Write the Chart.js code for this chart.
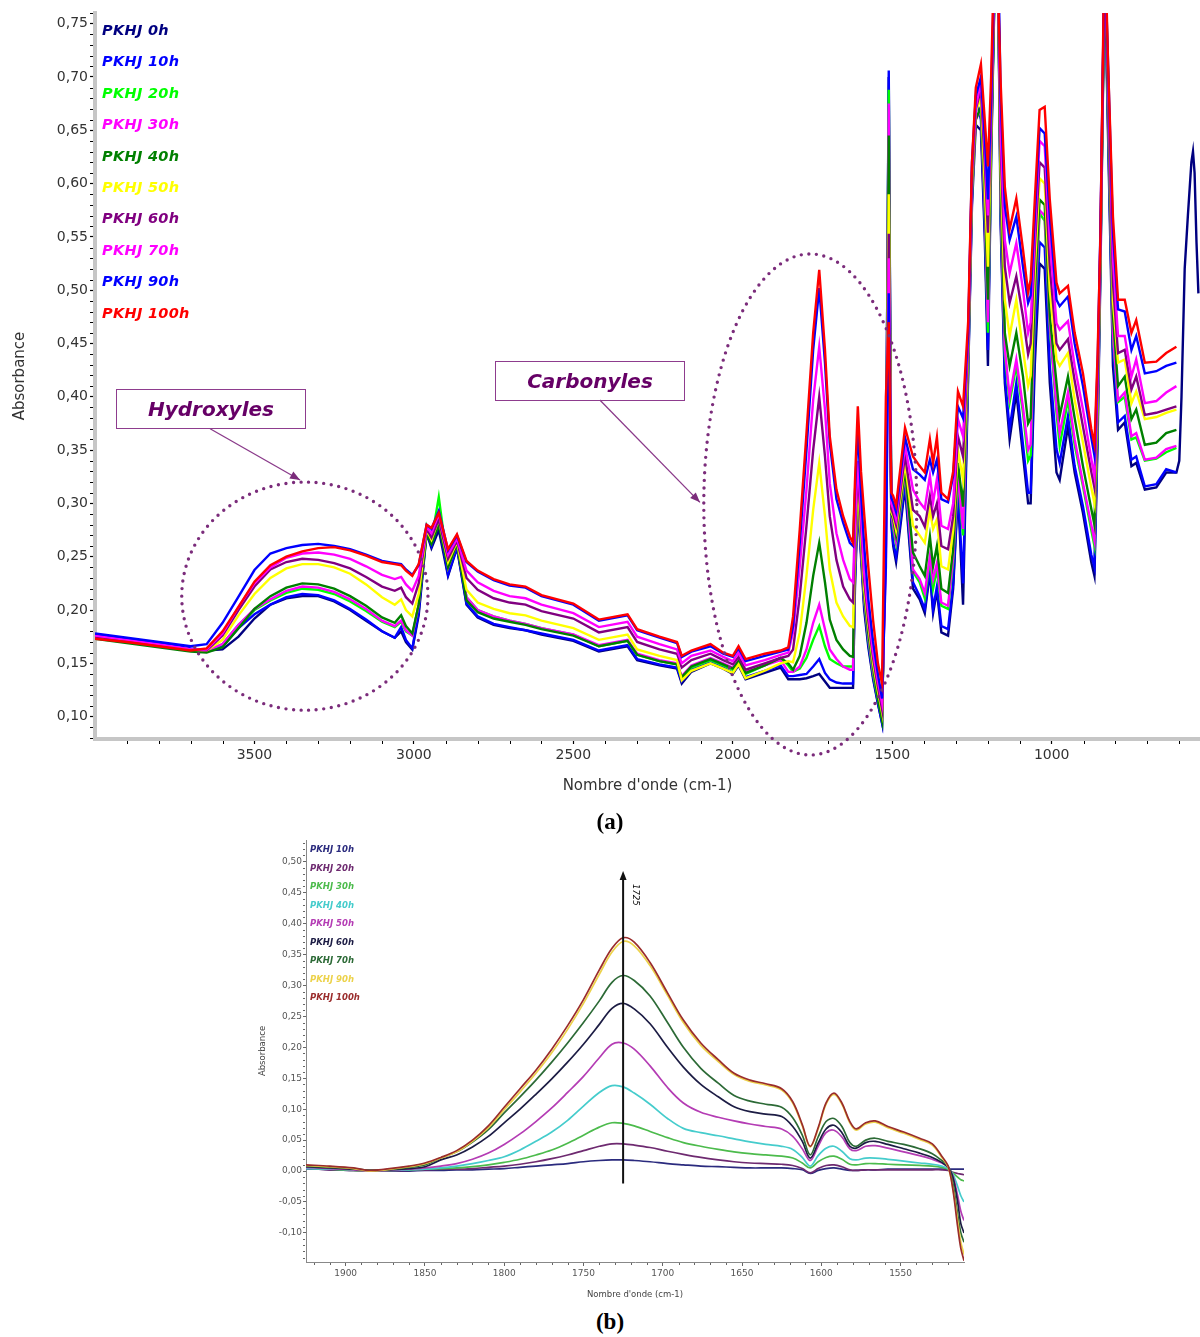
<!DOCTYPE html>
<html>
<head>
<meta charset="utf-8">
<title>PKHJ - spectres IR</title>
<script src="https://cdn.jsdelivr.net/npm/chart.js@4.4.1/dist/chart.umd.min.js"></script>
<style>
html, body { margin: 0; padding: 0; background: #fff; }
#page { position: relative; width: 1200px; height: 1337px; overflow: hidden; }
canvas { position: absolute; }
#chartA { left: 0; top: 0; }
#chartB { left: 250px; top: 830px; }
.lg { position: absolute; font-family: "DejaVu Sans", sans-serif; font-weight: bold; font-style: italic; white-space: nowrap; }
.lgA { left: 102px; font-size: 14.5px; line-height: 18px; letter-spacing: 0.3px; }
.lgB { left: 310px; font-size: 8.5px; line-height: 10px; }
.tag { position: absolute; box-sizing: border-box; width: 190px; height: 40px; border: 1px solid #8e3c8e; text-align: center; line-height: 38px; font-family: "DejaVu Sans", sans-serif; font-weight: bold; font-style: italic; font-size: 20px; color: #660066; }
.cap { position: absolute; left: 560px; width: 100px; text-align: center; font-family: "Liberation Serif", serif; font-weight: bold; font-size: 23px; line-height: 28px; color: #000; }
#peak { position: absolute; left: 641px; top: 884px; font-family: "DejaVu Sans", sans-serif; font-style: italic; font-size: 8.5px; line-height: 10px; transform: rotate(90deg); transform-origin: left top; white-space: nowrap; }
</style>
</head>
<body>
<div id="page">
  <canvas id="chartA" width="1200" height="800"></canvas>
  <canvas id="chartB" width="720" height="475"></canvas>
  <div class="tag" style="left:116px;top:389px">Hydroxyles</div>
  <div class="tag" style="left:495px;top:361px">Carbonyles</div>
  <div class="cap" style="top:808px">(a)</div>
  <div class="cap" style="top:1308px">(b)</div>
  <div id="peak">1725</div>
</div>
<script>
// ---------- (a) full spectra ----------
const wavenumbers = [4000,3900,3800,3700,3650,3600,3550,3500,3450,3400,
  3350,3300,3250,3200,3150,3100,3060,3040,3025,3005,
  2985,2960,2945,2922,2893,2865,2835,2800,2750,2700,
  2650,2600,2500,2420,2330,2300,2230,2175,2160,2130,
  2070,2030,2000,1982,1960,1900,1850,1826,1811,1790,
  1769,1748,1729,1711,1696,1675,1654,1633,1623,1617,
  1608,1598,1588,1575,1560,1545,1532,1520,1511,1503,
  1497,1488,1460,1435,1414,1398,1382,1372,1360,1346,
  1325,1309,1294,1278,1262,1250,1238,1222,1210,1200,
  1190,1178,1168,1160,1147,1132,1111,1090,1074,1066,
  1053,1038,1022,1006,985,975,949,928,902,876,
  866,856,847,834,823,808,792,771,750,735,
  708,672,641,609,600,593,583,573,562,557,
  552,546,540];

const pkhj0h = [.176,.172,.168,.163,.162,.163,.175,.192,.205,.211,
  .213,.213,.208,.200,.190,.180,.174,.180,.170,.163,
  .195,.272,.258,.275,.232,.258,.205,.193,.186,.183,
  .181,.177,.171,.161,.166,.153,.148,.145,.131,.142,
  .150,.145,.140,.148,.135,.141,.146,.135,.135,.135,
  .136,.138,.140,.133,.127,.127,.127,.127,.127,.220,
  .300,.250,.200,.165,.135,.112,.094,.300,.700,.280,
  .260,.245,.315,.220,.210,.197,.235,.197,.218,.179,
  .176,.220,.310,.205,.420,.580,.655,.650,.550,.429,
  .620,.800,.790,.560,.413,.360,.404,.345,.300,.300,
  .430,.525,.520,.413,.329,.322,.372,.329,.291,.245,
  .232,.360,.520,.800,.640,.429,.369,.376,.335,.338,
  .313,.315,.329,.329,.340,.400,.520,.570,.620,.630,
  .610,.545,.497];
const pkhj10h = [.177,.173,.169,.164,.162,.166,.183,.196,.205,.212,
  .215,.214,.209,.201,.191,.180,.174,.184,.172,.164,
  .198,.273,.260,.282,.233,.259,.206,.194,.187,.184,
  .181,.178,.172,.162,.167,.154,.149,.146,.133,.144,
  .151,.146,.141,.149,.137,.143,.148,.138,.138,.139,
  .140,.147,.154,.141,.135,.132,.131,.131,.131,.230,
  .305,.255,.205,.168,.137,.113,.094,.300,.706,.285,
  .263,.250,.320,.226,.213,.201,.238,.201,.222,.185,
  .182,.225,.313,.225,.425,.585,.680,.660,.560,.444,
  .630,.810,.820,.569,.419,.370,.413,.355,.310,.310,
  .450,.545,.540,.429,.351,.338,.382,.335,.297,.252,
  .240,.370,.530,.820,.650,.444,.376,.382,.341,.344,
  .316,.318,.332,.329];
const pkhj20h = [.174,.170,.166,.162,.161,.168,.186,.200,.209,.216,
  .220,.219,.215,.208,.199,.189,.184,.189,.180,.176,
  .205,.278,.265,.306,.240,.263,.212,.200,.194,.190,
  .187,.183,.177,.166,.171,.158,.152,.149,.136,.146,
  .153,.148,.144,.151,.140,.148,.155,.148,.142,.145,
  .155,.172,.185,.166,.154,.150,.147,.147,.147,.240,
  .310,.260,.210,.172,.140,.116,.098,.290,.688,.290,
  .276,.262,.328,.236,.226,.211,.247,.220,.238,.204,
  .201,.245,.323,.270,.430,.590,.665,.665,.575,.460,
  .630,.800,.780,.579,.440,.395,.429,.385,.340,.345,
  .480,.572,.565,.465,.385,.354,.397,.355,.316,.275,
  .260,.380,.530,.800,.660,.455,.395,.400,.360,.362,
  .340,.342,.348,.352];
const pkhj30h = [.175,.171,.167,.163,.162,.168,.186,.201,.210,.218,
  .222,.221,.217,.210,.201,.190,.185,.190,.181,.176,
  .205,.276,.265,.290,.240,.262,.212,.200,.194,.190,
  .187,.183,.177,.167,.172,.159,.153,.150,.138,.148,
  .155,.150,.146,.153,.142,.148,.153,.142,.142,.147,
  .163,.188,.205,.182,.163,.154,.147,.144,.144,.240,
  .310,.260,.212,.175,.143,.119,.101,.290,.675,.290,
  .280,.265,.330,.238,.229,.216,.250,.229,.244,.207,
  .204,.250,.326,.276,.435,.595,.660,.670,.580,.470,
  .640,.810,.790,.585,.445,.400,.435,.390,.350,.355,
  .490,.575,.570,.470,.391,.366,.404,.360,.319,.280,
  .265,.385,.535,.810,.670,.460,.397,.404,.363,.366,
  .341,.343,.351,.354];
const pkhj40h = [.173,.169,.165,.161,.160,.165,.183,.201,.213,.221,
  .225,.224,.220,.213,.204,.193,.188,.195,.185,.178,
  .205,.272,.262,.280,.240,.262,.209,.198,.192,.189,
  .186,.182,.176,.166,.171,.158,.152,.149,.137,.147,
  .154,.149,.145,.152,.141,.148,.155,.150,.144,.157,
  .188,.232,.263,.226,.191,.172,.163,.157,.156,.250,
  .315,.265,.215,.178,.146,.117,.097,.280,.645,.290,
  .285,.270,.332,.254,.241,.232,.269,.241,.260,.220,
  .216,.257,.338,.297,.440,.600,.660,.672,.590,.491,
  .640,.800,.780,.597,.460,.429,.460,.419,.375,.380,
  .500,.585,.580,.476,.413,.382,.419,.380,.335,.295,
  .280,.390,.540,.800,.680,.476,.410,.419,.379,.388,
  .355,.357,.366,.369];
const pkhj50h = [.175,.171,.167,.163,.162,.172,.195,.215,.230,.239,
  .243,.243,.240,.234,.224,.212,.205,.210,.200,.194,
  .215,.275,.266,.285,.245,.264,.219,.207,.201,.197,
  .195,.190,.183,.172,.177,.163,.157,.153,.134,.143,
  .150,.145,.141,.149,.136,.143,.150,.152,.151,.179,
  .232,.294,.338,.288,.238,.207,.194,.185,.184,.260,
  .320,.270,.220,.185,.150,.124,.104,.270,.590,.292,
  .288,.275,.338,.279,.270,.263,.294,.276,.285,.241,
  .238,.275,.350,.322,.445,.605,.668,.680,.600,.522,
  .650,.820,.800,.616,.491,.457,.491,.444,.410,.420,
  .520,.605,.600,.500,.435,.429,.441,.397,.357,.315,
  .300,.400,.545,.830,.700,.490,.432,.435,.394,.405,
  .379,.381,.385,.388];
const pkhj60h = [.175,.171,.167,.163,.162,.176,.200,.222,.238,.245,
  .248,.247,.244,.239,.231,.222,.218,.221,.212,.206,
  .225,.276,.268,.285,.248,.265,.230,.219,.211,.207,
  .205,.199,.192,.179,.184,.170,.163,.159,.146,.153,
  .159,.153,.149,.156,.144,.150,.155,.157,.163,.213,
  .279,.350,.400,.344,.288,.247,.222,.210,.207,.270,
  .330,.280,.228,.190,.155,.128,.107,.260,.553,.295,
  .290,.280,.345,.294,.288,.278,.307,.288,.300,.260,
  .257,.288,.363,.344,.450,.610,.670,.688,.620,.554,
  .660,.810,.790,.632,.522,.488,.513,.475,.440,.450,
  .540,.620,.615,.522,.450,.444,.454,.415,.372,.330,
  .315,.410,.550,.810,.690,.507,.441,.444,.407,.419,
  .383,.385,.388,.391];
const pkhj70h = [.176,.172,.168,.163,.163,.178,.203,.225,.240,.249,
  .253,.254,.252,.248,.241,.233,.229,.231,.224,.218,
  .232,.278,.272,.290,.252,.267,.237,.226,.218,.213,
  .211,.205,.197,.184,.189,.175,.168,.163,.150,.157,
  .162,.156,.152,.160,.148,.153,.158,.160,.179,.241,
  .313,.397,.447,.388,.319,.272,.247,.229,.226,.280,
  .340,.290,.235,.197,.160,.133,.113,.250,.530,.300,
  .295,.285,.354,.313,.301,.295,.326,.301,.323,.279,
  .276,.300,.379,.363,.455,.615,.672,.695,.635,.570,
  .670,.820,.800,.647,.547,.516,.544,.500,.460,.470,
  .555,.640,.635,.547,.469,.463,.471,.429,.388,.342,
  .325,.420,.555,.820,.700,.530,.457,.457,.419,.435,
  .394,.396,.404,.410];
const pkhj90h = [.178,.174,.170,.166,.168,.188,.2125,.2375,.253,.258,
  .261,.262,.260,.257,.252,.246,.244,.243,.238,.233,
  .242,.280,.276,.293,.256,.270,.245,.236,.228,.223,
  .221,.213,.205,.190,.195,.181,.174,.169,.156,.161,
  .166,.159,.156,.164,.152,.157,.161,.163,.185,.263,
  .350,.444,.502,.432,.357,.304,.282,.263,.260,.310,
  .370,.310,.260,.210,.170,.140,.117,.240,.497,.305,
  .301,.292,.362,.332,.327,.322,.341,.329,.341,.304,
  .301,.326,.391,.380,.460,.620,.682,.700,.645,.585,
  .680,.830,.820,.679,.579,.547,.569,.522,.488,.495,
  .570,.652,.647,.569,.491,.485,.494,.450,.410,.362,
  .345,.430,.560,.820,.710,.554,.482,.480,.444,.457,
  .422,.424,.429,.432];
const pkhj100h = [.173,.170,.166,.162,.164,.180,.203,.2266,.242,.250,
  .255,.258,.259,.256,.251,.245,.243,.242,.237,.232,
  .243,.280,.277,.291,.257,.271,.246,.237,.229,.224,
  .222,.214,.206,.191,.196,.182,.175,.170,.157,.162,
  .168,.160,.157,.166,.154,.159,.162,.165,.194,.276,
  .366,.460,.519,.444,.363,.313,.288,.269,.263,.320,
  .391,.330,.290,.240,.190,.150,.131,.400,.470,.310,
  .307,.298,.371,.344,.335,.329,.360,.338,.362,.310,
  .304,.330,.405,.391,.470,.620,.690,.712,.660,.616,
  .700,.840,.780,.694,.597,.557,.586,.538,.498,.510,
  .585,.669,.672,.585,.507,.497,.504,.460,.422,.370,
  .355,.440,.554,.840,.710,.569,.491,.491,.460,.472,
  .432,.433,.441,.447];

const namesA = ['PKHJ 0h','PKHJ 10h','PKHJ 20h','PKHJ 30h','PKHJ 40h','PKHJ 50h','PKHJ 60h','PKHJ 70h','PKHJ 90h','PKHJ 100h'];
const colorsA = ['#000080','#0000ff','#00ff00','#ff00ff','#008000','#ffff00','#800080','#ff00ff','#0000ff','#ff0000'];
const seriesA = [pkhj0h,pkhj10h,pkhj20h,pkhj30h,pkhj40h,pkhj50h,pkhj60h,pkhj70h,pkhj90h,pkhj100h];
const yTicksA = [0.10,0.15,0.20,0.25,0.30,0.35,0.40,0.45,0.50,0.55,0.60,0.65,0.70,0.75];
const xTicksA = [3500,3000,2500,2000,1500,1000];

// ---------- (b) carbonyl zoom ----------
const wavenumbersB = [1925,1910,1895,1885,1875,1860,1850,1840,1830,1820,
  1810,1800,1790,1780,1770,1760,1750,1740,1732,1725,
  1718,1708,1697,1687,1676,1665,1655,1645,1635,1625,
  1618,1612,1607,1602,1597,1592,1587,1582,1578,1572,
  1566,1558,1548,1538,1530,1524,1520,1517,1514,1512,1510];
const b10h = [.004,.002,.001,.000,.000,.000,.001,.001,.002,.002,
  .003,.004,.006,.008,.010,.012,.015,.017,.018,.018,
  .017,.015,.012,.010,.008,.007,.006,.005,.005,.005,
  .004,.002,-.004,.001,.004,.005,.003,.001,.001,.002,
  .002,.003,.003,.003,.003,.003,.003,.003,.003,.003,.003];
const b20h = [.004,.002,.001,.000,.000,.001,.002,.003,.003,.004,
  .006,.008,.011,.015,.020,.026,.033,.040,.044,.044,
  .042,.038,.032,.027,.022,.018,.015,.013,.012,.011,
  .009,.004,-.003,.004,.009,.010,.007,.002,.001,.002,
  .002,.002,.002,.002,.002,.002,.001,-.002,-.004,-.005,-.006];
const b30h = [.005,.003,.001,.000,.001,.002,.003,.004,.005,.007,
  .010,.014,.019,.026,.034,.045,.058,.071,.078,.077,
  .073,.064,.054,.046,.040,.035,.031,.028,.026,.024,
  .021,.013,.005,.015,.022,.024,.019,.011,.010,.012,
  .012,.011,.010,.009,.008,.006,.003,-.003,-.010,-.014,-.016];
const b40h = [.004,.003,.002,.001,.001,.002,.003,.005,.008,.012,
  .017,.023,.034,.048,.063,.082,.105,.127,.138,.136,
  .126,.108,.085,.069,.062,.057,.052,.047,.043,.040,
  .035,.022,.008,.025,.037,.040,.032,.020,.018,.021,
  .021,.019,.016,.013,.011,.008,.004,-.005,-.025,-.040,-.050];
const b50h = [.006,.004,.002,.000,.001,.003,.005,.008,.012,.019,
  .029,.043,.060,.080,.102,.127,.153,.183,.205,.207,
  .197,.170,.135,.110,.095,.087,.081,.076,.072,.068,
  .056,.036,.017,.040,.062,.066,.055,.036,.033,.040,
  .041,.037,.031,.025,.019,.013,.006,-.008,-.040,-.065,-.080];
const b60h = [.007,.005,.003,.001,.002,.004,.007,.018,.026,.039,
  .056,.078,.100,.124,.149,.176,.205,.237,.263,.271,
  .262,.238,.200,.168,.140,.120,.104,.096,.092,.088,
  .072,.048,.021,.045,.068,.074,.062,.040,.037,.046,
  .048,.043,.036,.029,.022,.014,.006,-.010,-.050,-.085,-.100];
const b70h = [.008,.006,.004,.001,.002,.006,.010,.021,.031,.047,
  .067,.094,.120,.147,.176,.207,.240,.275,.305,.316,
  .308,.283,.240,.200,.166,.142,.122,.113,.108,.103,
  .086,.058,.026,.055,.080,.085,.072,.046,.040,.050,
  .053,.048,.043,.036,.028,.017,.008,-.020,-.070,-.100,-.115];
const b90h = [.009,.007,.004,.000,.002,.007,.012,.021,.031,.048,
  .070,.099,.128,.158,.191,.229,.271,.318,.354,.371,
  .364,.332,.284,.240,.203,.177,.156,.145,.139,.131,
  .110,.073,.039,.068,.108,.124,.108,.078,.066,.076,
  .079,.070,.061,.051,.042,.022,.006,-.028,-.080,-.115,-.135];
const b100h = [.010,.008,.005,.001,.003,.008,.013,.022,.033,.050,
  .073,.103,.133,.163,.197,.235,.277,.325,.360,.377,
  .370,.337,.288,.244,.207,.180,.158,.147,.141,.133,
  .112,.075,.040,.070,.110,.126,.110,.080,.068,.078,
  .081,.072,.063,.053,.044,.024,.008,-.030,-.090,-.125,-.145];

const namesB = ['PKHJ 10h','PKHJ 20h','PKHJ 30h','PKHJ 40h','PKHJ 50h','PKHJ 60h','PKHJ 70h','PKHJ 90h','PKHJ 100h'];
const colorsB = ['#2b2b7e','#6e2a70','#4cbb4c','#45cccc','#b43cb4','#1c1c44','#2c6a36','#ecd24a','#9a2c2c'];
const seriesB = [b10h,b20h,b30h,b40h,b50h,b60h,b70h,b90h,b100h];
const yTicksB = [-0.10,-0.05,0.00,0.05,0.10,0.15,0.20,0.25,0.30,0.35,0.40,0.45,0.50];
const xTicksB = [1900,1850,1800,1750,1700,1650,1600,1550];

// annotations of (a), in data units
const ellipses = [
  { w: 3342, v: 0.213, dw: 386, dv: 0.107 },
  { w: 1757, v: 0.299, dw: 334, dv: 0.235 }
];
const arrows = [
  { from: [3639, 0.370], to: [3357, 0.322] },
  { from: [2417, 0.397], to: [2103, 0.301] }
];
const peakLine = { w: 1725, from: -0.02, to: 0.485 };

Chart.defaults.font.family = '"DejaVu Sans", sans-serif';
Chart.defaults.animation = false;

function comma(v) { return v.toFixed(2).replace('.', ','); }

function buildSets(xs, series, names, colors, width, tension) {
  return series.map((vals, i) => ({
    label: names[i],
    data: vals.map((v, j) => ({ x: xs[j], y: v })),
    borderColor: colors[i],
    backgroundColor: colors[i],
    borderWidth: width,
    pointRadius: 0,
    tension: tension,
    fill: false,
    order: series.length - i
  }));
}

function drawHead(ctx, x0, y0, x1, y1, len, half) {
  const a = Math.atan2(y1 - y0, x1 - x0);
  ctx.beginPath();
  ctx.moveTo(x1, y1);
  ctx.lineTo(x1 - len * Math.cos(a) + half * Math.sin(a), y1 - len * Math.sin(a) - half * Math.cos(a));
  ctx.lineTo(x1 - len * Math.cos(a) - half * Math.sin(a), y1 - len * Math.sin(a) + half * Math.cos(a));
  ctx.closePath();
  ctx.fill();
}

const extrasA = {
  id: 'extrasA',
  afterDatasetsDraw(chart) {
    const { ctx, chartArea: a, scales: { x, y } } = chart;
    ctx.save();
    // minor ticks
    ctx.strokeStyle = '#000';
    ctx.lineWidth = 1;
    ctx.beginPath();
    for (let k = 8; k <= 76; k++) {
      if (k % 5 === 0) continue;
      const py = Math.round(y.getPixelForValue(k / 100)) + 0.5;
      ctx.moveTo(a.left - 5, py); ctx.lineTo(a.left - 2, py);
    }
    for (let w = 600; w <= 3900; w += 100) {
      if (w % 500 === 0) continue;
      const px = Math.round(x.getPixelForValue(w)) + 0.5;
      ctx.moveTo(px, a.bottom + 2); ctx.lineTo(px, a.bottom + 5);
    }
    ctx.stroke();

    // dotted ellipses
    ctx.strokeStyle = '#7b2c7b';
    ctx.lineWidth = 3.4;
    ctx.lineCap = 'round';
    ctx.setLineDash([0, 7.6]);
    ellipses.forEach(e => {
      const cx = x.getPixelForValue(e.w), cy = y.getPixelForValue(e.v);
      const rx = Math.abs(x.getPixelForValue(e.w + e.dw) - cx);
      const ry = Math.abs(y.getPixelForValue(e.v + e.dv) - cy);
      ctx.beginPath();
      ctx.ellipse(cx, cy, rx, ry, 0, 0, Math.PI * 2);
      ctx.stroke();
    });

    // arrows from the labels
    ctx.setLineDash([]);
    ctx.lineCap = 'butt';
    ctx.lineWidth = 1.3;
    ctx.strokeStyle = '#8a3a8a';
    ctx.fillStyle = '#7b2c7b';
    arrows.forEach(r => {
      const x0 = x.getPixelForValue(r.from[0]), y0 = y.getPixelForValue(r.from[1]);
      const x1 = x.getPixelForValue(r.to[0]), y1 = y.getPixelForValue(r.to[1]);
      ctx.beginPath(); ctx.moveTo(x0, y0); ctx.lineTo(x1, y1); ctx.stroke();
      drawHead(ctx, x0, y0, x1, y1, 10, 4);
    });
    ctx.restore();
  }
};

const extrasB = {
  id: 'extrasB',
  afterDatasetsDraw(chart) {
    const { ctx, chartArea: a, scales: { x, y } } = chart;
    ctx.save();
    ctx.strokeStyle = '#666';
    ctx.lineWidth = 1;
    ctx.beginPath();
    for (let k = -14; k <= 53; k++) {
      if (k % 5 === 0) continue;
      const py = Math.round(y.getPixelForValue(k / 100)) + 0.5;
      ctx.moveTo(a.left - 3, py); ctx.lineTo(a.left - 1, py);
    }
    for (let w = 1520; w <= 1920; w += 10) {
      if (w % 50 === 0) continue;
      const px = Math.round(x.getPixelForValue(w)) + 0.5;
      ctx.moveTo(px, a.bottom + 1); ctx.lineTo(px, a.bottom + 3);
    }
    ctx.stroke();

    // 1725 marker
    const px = x.getPixelForValue(peakLine.w);
    const y0 = y.getPixelForValue(peakLine.from), y1 = y.getPixelForValue(peakLine.to);
    ctx.strokeStyle = '#111';
    ctx.fillStyle = '#111';
    ctx.lineWidth = 2;
    ctx.beginPath(); ctx.moveTo(px, y0); ctx.lineTo(px, y1 + 4); ctx.stroke();
    drawHead(ctx, px, y0, px, y1, 9, 3.5);
    ctx.restore();
  }
};

// (a)
new Chart(document.getElementById('chartA'), {
  type: 'line',
  data: { datasets: buildSets(wavenumbers, seriesA, namesA, colorsA, 2.4, 0) },
  options: {
    responsive: false,
    devicePixelRatio: 1,
    layout: { padding: { top: 13, left: 0, right: 0, bottom: 0 } },
    plugins: { legend: { display: false }, tooltip: { enabled: false } },
    scales: {
      x: {
        type: 'linear', reverse: true, min: 535, max: 4000, bounds: 'data',
        afterBuildTicks: s => { s.ticks = xTicksA.map(v => ({ value: v })); },
        afterFit: s => { s.height = 61; },
        ticks: { font: { size: 14 }, color: '#333', padding: 3, maxRotation: 0, callback: v => String(v) },
        grid: { drawOnChartArea: false, drawTicks: true, tickLength: 5, tickColor: '#000', tickWidth: 1.2 },
        border: { display: true, color: '#c6c6c6', width: 4 },
        title: { display: true, text: "Nombre d'onde (cm-1)", font: { size: 15 }, color: '#333', padding: { top: 0, bottom: 5 } }
      },
      y: {
        type: 'linear', min: 0.079, max: 0.760, bounds: 'data',
        afterBuildTicks: s => { s.ticks = yTicksA.map(v => ({ value: v })); },
        afterFit: s => { s.width = 95; },
        ticks: { font: { size: 14 }, color: '#333', padding: 2, callback: v => comma(v) },
        grid: { drawOnChartArea: false, drawTicks: true, tickLength: 5, tickColor: '#000', tickWidth: 1.2 },
        border: { display: true, color: '#c6c6c6', width: 4 },
        title: { display: true, text: 'Absorbance', font: { size: 15 }, color: '#333', padding: { top: 11, bottom: 0 } }
      }
    }
  },
  plugins: [extrasA]
});

// (b)
new Chart(document.getElementById('chartB'), {
  type: 'line',
  data: { datasets: buildSets(wavenumbersB, seriesB, namesB, colorsB, 1.7, 0.35) },
  options: {
    responsive: false,
    devicePixelRatio: 1,
    layout: { padding: { top: 10, left: 0, right: 6, bottom: 0 } },
    plugins: { legend: { display: false }, tooltip: { enabled: false } },
    scales: {
      x: {
        type: 'linear', reverse: true, min: 1510, max: 1925, bounds: 'data',
        afterBuildTicks: s => { s.ticks = xTicksB.map(v => ({ value: v })); },
        afterFit: s => { s.height = 43; },
        ticks: { font: { size: 9 }, color: '#555', padding: 2, maxRotation: 0, callback: v => String(v) },
        grid: { drawOnChartArea: false, drawTicks: true, tickLength: 4, tickColor: '#666', tickWidth: 1 },
        border: { display: true, color: '#888', width: 1 },
        title: { display: true, text: "Nombre d'onde (cm-1)", font: { size: 8.5 }, color: '#444', padding: { top: 0, bottom: 5 } }
      },
      y: {
        type: 'linear', min: -0.147, max: 0.535, bounds: 'data',
        afterBuildTicks: s => { s.ticks = yTicksB.map(v => ({ value: v })); },
        afterFit: s => { s.width = 56; },
        ticks: { font: { size: 9 }, color: '#555', padding: 1, callback: v => comma(v) },
        grid: { drawOnChartArea: false, drawTicks: true, tickLength: 3, tickColor: '#666', tickWidth: 1 },
        border: { display: true, color: '#888', width: 1 },
        title: { display: true, text: 'Absorbance', font: { size: 8.5 }, color: '#444', padding: { top: 8, bottom: 0 } }
      }
    }
  },
  plugins: [extrasB]
});

// legends as text
const page = document.getElementById('page');
namesA.forEach((n, i) => {
  const d = document.createElement('div');
  d.className = 'lg lgA';
  d.style.top = (21 + i * 31.4) + 'px';
  d.style.color = colorsA[i];
  d.textContent = n;
  page.appendChild(d);
});
namesB.forEach((n, i) => {
  const d = document.createElement('div');
  d.className = 'lg lgB';
  d.style.top = (844 + i * 18.5) + 'px';
  d.style.color = colorsB[i];
  d.textContent = n;
  page.appendChild(d);
});
</script>
</body>
</html>
